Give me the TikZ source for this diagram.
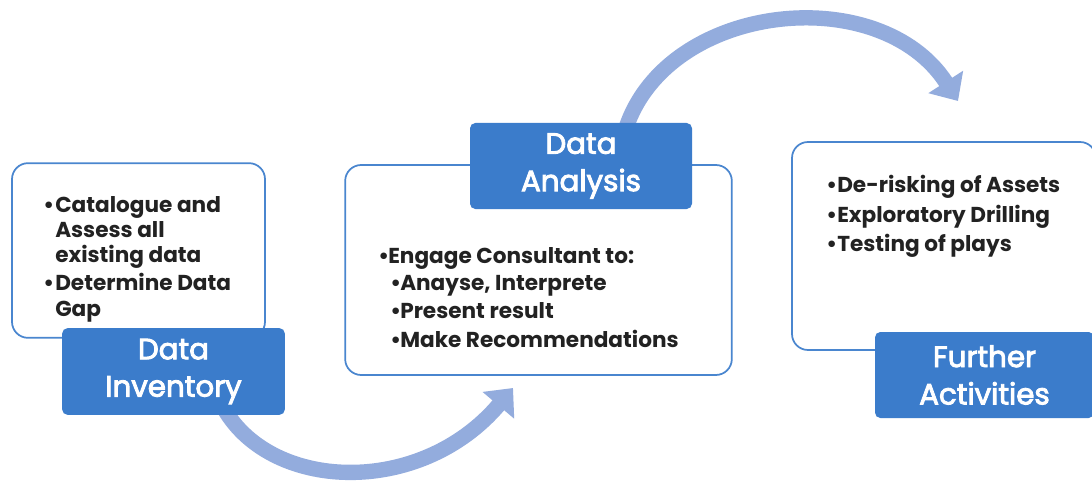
\documentclass[tikz,border=0pt]{standalone}
\usepackage{fontspec}
\setmainfont{Poppins}
\newfontfamily\lblfont[FakeBold=3]{Poppins}
\usetikzlibrary{arrows.meta}
\definecolor{lblue}{HTML}{3B7CCB}
\definecolor{bordblue}{HTML}{4A86CF}
\definecolor{arrowblue}{HTML}{93ACDD}
\definecolor{txt}{HTML}{222222}
\newcommand{\bul}[1]{\makebox[#1][l]{•}}
\begin{document}
\begin{tikzpicture}[x=0.75pt,y=-0.75pt,
  panel/.style={draw=bordblue, line width=1.3pt, fill=white, rounded corners=12pt, inner sep=0},
  lbl/.style={fill=lblue, rounded corners=4pt, text=white, align=center, inner sep=0,
    font=\lblfont\fontsize{22}{28}\selectfont},
  itemtxt/.style={anchor=base west, inner sep=0, text=txt, font=\bfseries\fontsize{16.2}{18}\selectfont},
  flow/.style={draw=arrowblue, line width=11.5pt, -{Triangle[length=17pt,width=30pt]}}]
\useasboundingbox (0,0) rectangle (1092,481);
\fill[white] (0,0) rectangle (1092,481);
% connectors
\coordinate (s1) at (222,405);
\coordinate (e1) at (513,388);
\coordinate (s2) at (626,128);
\coordinate (e2) at (958,101);
\draw[flow] (s1) .. controls (268,492) and (420,498) .. (e1);
\draw[flow] (s2) .. controls (668,2) and (880,-20) .. (e2);
% panels
\node[panel, minimum width=189.75pt, minimum height=131pt] (box1) at (138.5,250.5) {};
\node[panel, minimum width=290pt, minimum height=157.5pt] (box2) at (538.5,270) {};
\node[panel, minimum width=228pt, minimum height=156pt] (box3) at (944,246) {};
% labels
\node[lbl, minimum width=167pt, minimum height=65pt] (lab1) at (173.5,371.5) {Data\\Inventory};
\node[lbl, minimum width=166.5pt, minimum height=64.5pt] (lab2) at (581,166) {Data\\Analysis};
\node[lbl, minimum width=164.25pt, minimum height=64.5pt] (lab3) at (984.5,375) {Further\\Activities};
% box 1 text
\node[itemtxt] (t11) at (43,213) {\bul{9pt}Catalogue and};
\node[itemtxt] (t12) at (55,237) {Assess all};
\node[itemtxt] (t13) at (55,262) {existing data};
\node[itemtxt] (t14) at (43,290) {\bul{9pt}Determine Data};
\node[itemtxt] (t15) at (55,316) {Gap};
% box 2 text
\node[itemtxt] (t21) at (378,263) {\bul{7.5pt}Engage Consultant to:};
\node[itemtxt] (t22) at (390,290) {\bul{7.5pt}Anayse, Interprete};
\node[itemtxt] (t23) at (390,318) {\bul{7.5pt}Present result};
\node[itemtxt] (t24) at (390,347) {\bul{7.5pt}Make Recommendations};
% box 3 text
\node[itemtxt] (t31) at (826,193) {\bul{8.25pt}De-risking of Assets};
\node[itemtxt] (t32) at (826,222) {\bul{8.25pt}Exploratory Drilling};
\node[itemtxt] (t33) at (826,251) {\bul{8.25pt}Testing of plays};
\end{tikzpicture}
\end{document}
